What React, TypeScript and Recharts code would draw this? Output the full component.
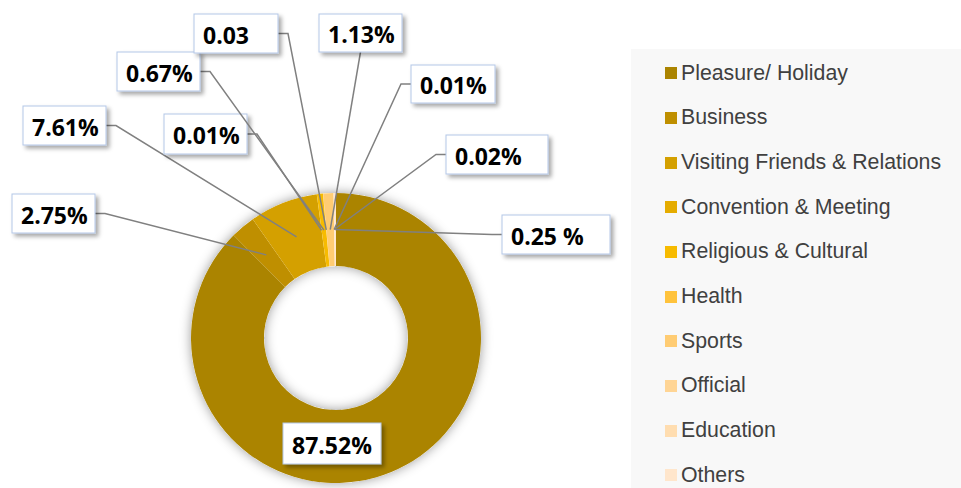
import { PieChart, Pie, Cell, Legend } from 'recharts'

const categories = [
  'Pleasure/ Holiday',
  'Business',
  'Visiting Friends & Relations',
  'Convention & Meeting',
  'Religious & Cultural',
  'Health',
  'Sports',
  'Official',
  'Education',
  'Others',
]
const shares = [87.52, 2.75, 7.61, 0.01, 0.67, 0.03, 1.13, 0.01, 0.02, 0.25]
const valueLabels = ['87.52%', '2.75%', '7.61%', '0.01%', '0.67%', '0.03', '1.13%', '0.01%', '0.02%', '0.25 %']
const colors = ['#AB8400', '#BF8F00', '#D4A000', '#E5AC00', '#F7BB00', '#FFC33C', '#FFCC73', '#FFD595', '#FFDDB0', '#FFE6CC']

// where each data label box was dragged to (like the manual label positions in the original)
const labelBoxes = [
  { x: 283, y: 423, w: 98, h: 41 },
  { x: 12, y: 194, w: 83, h: 39 },
  { x: 23, y: 106, w: 83, h: 39 },
  { x: 164, y: 114, w: 83, h: 40 },
  { x: 117, y: 52, w: 83, h: 39 },
  { x: 194, y: 14, w: 84, h: 39 },
  { x: 319, y: 14, w: 83, h: 38 },
  { x: 411, y: 65, w: 84, h: 38 },
  { x: 446, y: 135, w: 102, h: 39 },
  { x: 502, y: 215, w: 108, h: 39 },
]

const data = categories.map((name, i) => ({ name, value: shares[i] }))
const ring = [{ name: 'ring', value: shares.reduce((a, b) => a + b, 0) }]

const RAD = Math.PI / 180

const renderLabel = (props: any) => {
  const { cx, cy, midAngle, innerRadius, outerRadius, index } = props
  const box = labelBoxes[index]
  if (!box) return null
  const r = (innerRadius + outerRadius) / 2
  const ax = cx + r * Math.cos(-midAngle * RAD)
  const ay = cy + r * Math.sin(-midAngle * RAD)
  const my = box.y + box.h / 2
  let points = ''
  if (index !== 0) {
    if (box.x + box.w < ax) points = `${box.x + box.w},${my} ${box.x + box.w + 10},${my} ${ax},${ay}`
    else if (box.x > ax) points = `${box.x},${my} ${box.x - 10},${my} ${ax},${ay}`
    else points = `${box.x + box.w / 2},${box.y + box.h} ${ax},${ay}`
  }
  return (
    <g key={index}>
      {points && <polyline points={points} fill="none" stroke="#808080" strokeWidth={1.5} />}
      <rect x={box.x} y={box.y} width={box.w} height={box.h} fill="#fff" stroke="#B4C7E7" strokeWidth={1} filter="url(#boxShadow)" />
      <text
        x={box.x + 9}
        y={my + 1}
        dominantBaseline="central"
        fontFamily="'Open Sans', sans-serif"
        fontWeight={700}
        fontSize={23}
        fill="#000"
      >
        {valueLabels[index]}
      </text>
    </g>
  )
}

const renderLegend = (props: any) => {
  const items = (props.payload || [])
    .filter((p: any) => categories.includes(p.value))
    .sort((a: any, b: any) => categories.indexOf(a.value) - categories.indexOf(b.value))
  return (
    <div style={{ background: '#F8F8F8', width: 330, height: 439, paddingTop: 2, boxSizing: 'border-box' }}>
      {items.map((it: any, i: number) => (
        <div key={i} style={{ height: 44.67, display: 'flex', alignItems: 'center', paddingLeft: 34 }}>
          <span style={{ width: 12, height: 12, background: colors[categories.indexOf(it.value)], marginRight: 4, display: 'inline-block' }} />
          <span style={{ fontFamily: "'Liberation Sans', Arial, sans-serif", fontSize: 21.3, color: '#404040', whiteSpace: 'nowrap' }}>
            {it.value}
          </span>
        </div>
      ))}
    </div>
  )
}

export default function App() {
  return (
    <div style={{ position: 'absolute', left: 0, top: 0, background: '#fff' }}>
      <style>{'.ring-back path { filter: url(#ringGlow); }'}</style>
      <PieChart width={961} height={488} margin={{ top: 0, right: 0, bottom: 0, left: 0 }}>
        <defs>
          <filter id="ringGlow" x="-30%" y="-30%" width="160%" height="160%">
            <feDropShadow dx="0" dy="0" stdDeviation="6" floodColor="#000" floodOpacity="0.4" />
          </filter>
          <filter id="boxShadow" x="-20%" y="-30%" width="150%" height="170%">
            <feDropShadow dx="3" dy="3" stdDeviation="2" floodColor="#000" floodOpacity="0.35" />
          </filter>
        </defs>
        <Pie
          className="ring-back"
          data={ring}
          dataKey="value"
          cx={336}
          cy={338}
          innerRadius={72}
          outerRadius={145}
          startAngle={90}
          endAngle={-270}
          stroke="none"
          fill="#fff"
          legendType="none"
          isAnimationActive={false}
        />
        <Pie
          data={data}
          dataKey="value"
          nameKey="name"
          cx={336}
          cy={338}
          innerRadius={72}
          outerRadius={145}
          startAngle={90}
          endAngle={-270}
          stroke="none"
          label={renderLabel}
          labelLine={false}
          isAnimationActive={false}
        >
          {data.map((d, i) => (
            <Cell key={d.name} fill={colors[i]} />
          ))}
        </Pie>
        <Legend
          layout="vertical"
          align="right"
          verticalAlign="top"
          content={renderLegend}
          wrapperStyle={{ left: 631, top: 49, width: 330, height: 439 }}
        />
      </PieChart>
    </div>
  )
}
